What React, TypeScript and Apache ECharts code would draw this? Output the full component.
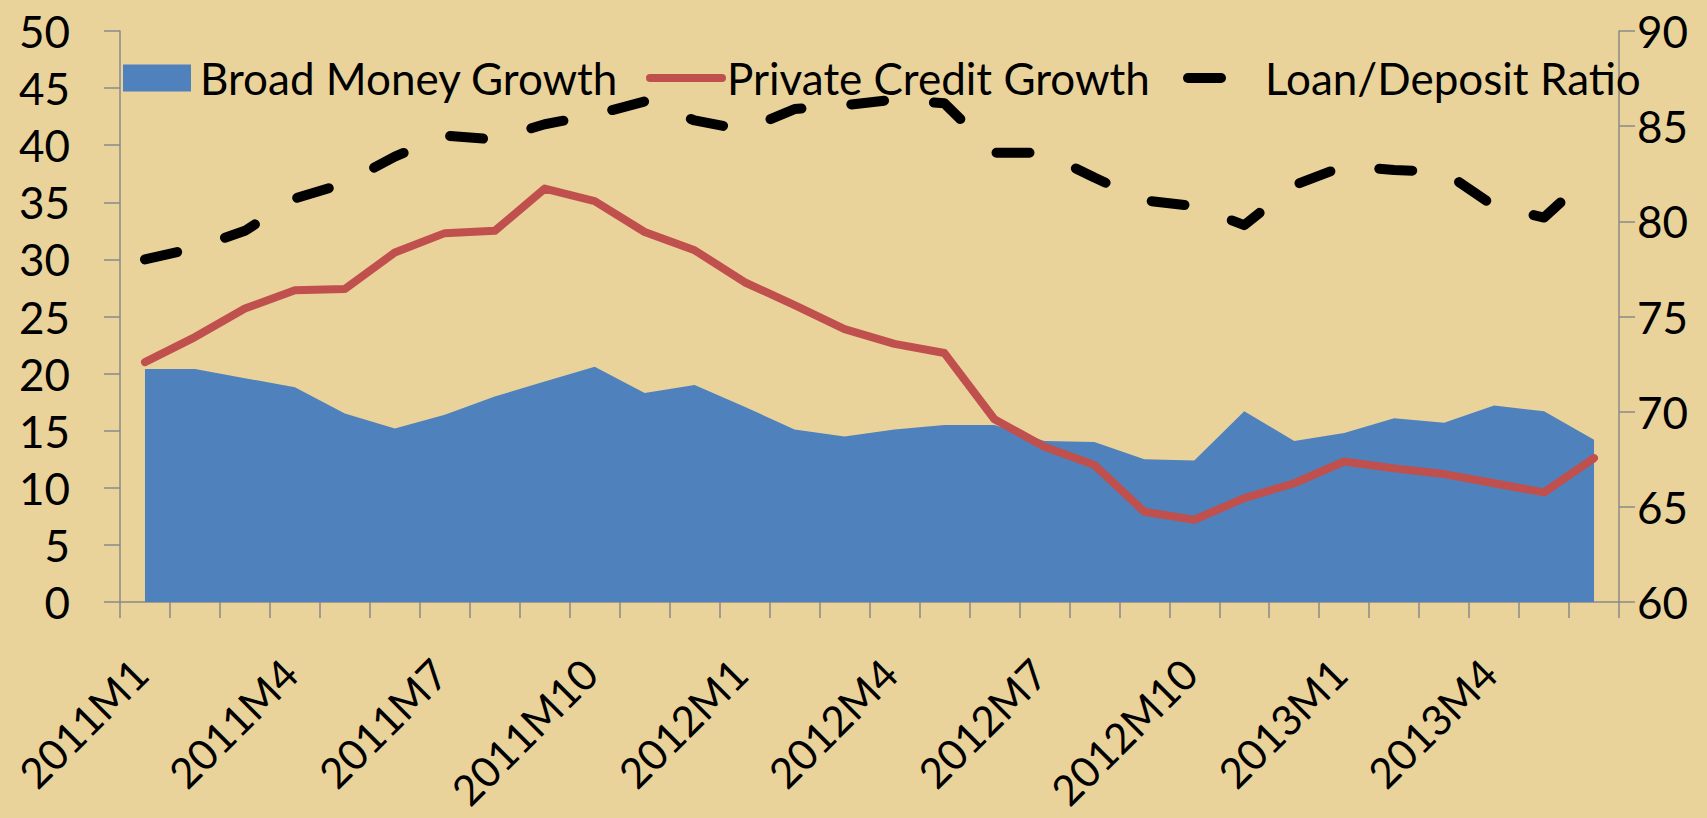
import React, { useEffect, useRef } from "react";
import * as echarts from "echarts";

const categories = [
  "2011M1", "2011M2", "2011M3", "2011M4", "2011M5", "2011M6",
  "2011M7", "2011M8", "2011M9", "2011M10", "2011M11", "2011M12",
  "2012M1", "2012M2", "2012M3", "2012M4", "2012M5", "2012M6",
  "2012M7", "2012M8", "2012M9", "2012M10", "2012M11", "2012M12",
  "2013M1", "2013M2", "2013M3", "2013M4", "2013M5", "2013M6",
];

const broadMoneyGrowth = [
  20.4, 20.4, 19.6, 18.8, 16.5, 15.2, 16.4, 18.0, 19.3, 20.6,
  18.3, 19.0, 17.1, 15.1, 14.5, 15.1, 15.5, 15.5, 14.1, 14.0,
  12.5, 12.4, 16.7, 14.1, 14.8, 16.1, 15.7, 17.2, 16.7, 14.2,
];

const privateCreditGrowth = [
  21.0, 23.2, 25.7, 27.3, 27.4, 30.6, 32.3, 32.5, 36.2, 35.1,
  32.4, 30.8, 28.0, 26.0, 23.9, 22.6, 21.8, 16.0, 13.6, 12.0,
  7.9, 7.2, 9.1, 10.4, 12.3, 11.7, 11.2, 10.4, 9.6, 12.6,
];

const loanDepositRatio = [
  78.0, 78.6, 79.5, 81.2, 82.0, 83.4, 84.5, 84.3, 85.1, 85.6,
  86.3, 85.3, 84.8, 85.9, 86.1, 86.4, 86.2, 83.6, 83.6, 82.3,
  81.1, 80.8, 79.8, 81.9, 82.9, 82.7, 82.6, 80.8, 80.2, 82.6,
];

const seriesNames = ["Broad Money Growth", "Private Credit Growth", "Loan/Deposit Ratio"];

const BLUE = "#4F81BD";
const RED = "#C0504D";
const BLACK = "#000000";
const AXIS_GRAY = "#8A8A8A";
const FONT = "Lato";
const HIDDEN = "rgba(0,0,0,0)";

export default function App() {
  const ref = useRef<HTMLDivElement | null>(null);

  useEffect(() => {
    if (!ref.current) return;
    const chart = echarts.init(ref.current, undefined, { renderer: "svg" });

    const legendText = { fontSize: 44, color: "#000", fontFamily: FONT, lineHeight: 52 };
    const hiddenSymbol = { color: HIDDEN, borderColor: HIDDEN, borderWidth: 0 };

    chart.setOption({
      animation: false,
      backgroundColor: "#E9D39B",
      textStyle: { fontFamily: FONT },
      grid: {
        left: 120,
        right: 88,
        top: 31,
        bottom: 216,
        containLabel: false,
        outerBoundsMode: "none",
      },
      legend: [
        {
          left: 123,
          top: 52,
          padding: 0,
          selectedMode: false,
          itemWidth: 68,
          itemHeight: 27,
          textStyle: { ...legendText, padding: [0, 0, 0, 4] },
          data: [{ name: seriesNames[0], icon: "rect", itemStyle: { color: BLUE } }],
        },
        {
          left: 646,
          top: 52,
          padding: 0,
          selectedMode: false,
          itemWidth: 72,
          itemHeight: 27,
          textStyle: legendText,
          itemStyle: hiddenSymbol,
          lineStyle: { color: RED, width: 8, type: "solid", cap: "round" },
          data: [{ name: seriesNames[1], itemStyle: hiddenSymbol }],
        },
        {
          left: 1183,
          top: 52,
          padding: 0,
          selectedMode: false,
          itemWidth: 72,
          itemHeight: 27,
          textStyle: legendText,
          itemStyle: hiddenSymbol,
          lineStyle: { color: BLACK, width: 10, type: [33, 200], cap: "round" },
          data: [{ name: seriesNames[2], itemStyle: hiddenSymbol }],
        },
      ],
      xAxis: {
        type: "category",
        data: categories,
        boundaryGap: true,
        axisLine: { show: true, lineStyle: { color: AXIS_GRAY, width: 1.5 } },
        axisTick: { show: true, interval: 0, length: 16, lineStyle: { color: AXIS_GRAY, width: 1.5 } },
        axisLabel: {
          interval: 2,
          rotate: 45,
          fontSize: 42,
          fontFamily: FONT,
          color: "#000",
          margin: 24,
          verticalAlign: "top",
          lineHeight: 50,
          padding: [0, 32, 0, 0],
        },
        splitLine: { show: false },
      },
      yAxis: [
        {
          type: "value",
          min: 0,
          max: 50,
          interval: 5,
          position: "left",
          axisLine: { show: true, lineStyle: { color: AXIS_GRAY, width: 1.5 } },
          axisTick: { show: true, length: 16, lineStyle: { color: AXIS_GRAY, width: 1.5 } },
          axisLabel: { fontSize: 44, fontFamily: FONT, color: "#000", margin: 50 },
          splitLine: { show: false },
        },
        {
          type: "value",
          min: 60,
          max: 90,
          interval: 5,
          position: "right",
          axisLine: { show: true, lineStyle: { color: AXIS_GRAY, width: 1.5 } },
          axisTick: { show: true, length: 16, lineStyle: { color: AXIS_GRAY, width: 1.5 } },
          axisLabel: { fontSize: 44, fontFamily: FONT, color: "#000", margin: 18 },
          splitLine: { show: false },
        },
      ],
      series: [
        {
          name: seriesNames[0],
          type: "line",
          yAxisIndex: 0,
          data: broadMoneyGrowth,
          symbol: "none",
          showSymbol: false,
          lineStyle: { width: 0, color: BLUE },
          itemStyle: { color: BLUE },
          areaStyle: { color: BLUE, opacity: 1 },
          z: 1,
        },
        {
          name: seriesNames[1],
          type: "line",
          yAxisIndex: 0,
          data: privateCreditGrowth,
          symbol: "none",
          showSymbol: false,
          itemStyle: { color: RED },
          lineStyle: { width: 8, color: RED, cap: "round", join: "round" },
          z: 2,
        },
        {
          name: seriesNames[2],
          type: "line",
          yAxisIndex: 1,
          data: loanDepositRatio,
          symbol: "none",
          showSymbol: false,
          itemStyle: { color: BLACK },
          lineStyle: { width: 10, color: BLACK, type: [33, 50], cap: "round", join: "round" },
          z: 3,
        },
      ],
    });

    return () => {
      chart.dispose();
    };
  }, []);

  return (
    <div
      ref={ref}
      style={{ position: "fixed", left: 0, top: 0, width: 1707, height: 818 }}
    />
  );
}
